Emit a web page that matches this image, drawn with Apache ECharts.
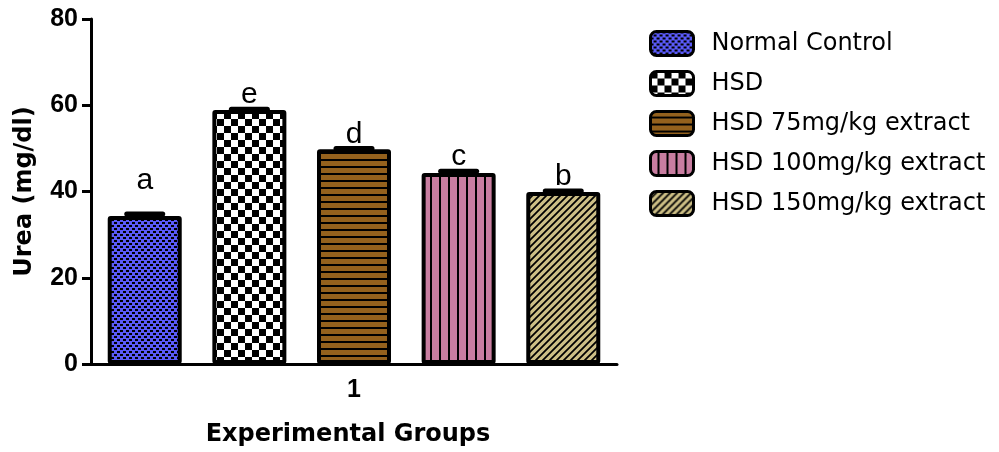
<!DOCTYPE html>
<html>
<head>
<meta charset="utf-8">
<title>Urea (mg/dl) by experimental group</title>
<script src="https://cdn.jsdelivr.net/npm/echarts@6/dist/echarts.min.js"></script>
<style>
  html, body { margin: 0; padding: 0; background: #fff; }
  #chart { width: 999px; height: 452px; }
</style>
</head>
<body>
<div id="chart"></div>
<script>
// Groups, measured means and SEMs, significance letters
const groups = ['Normal Control', 'HSD', 'HSD 75mg/kg extract', 'HSD 100mg/kg extract', 'HSD 150mg/kg extract'];
const xTicks = ['1'];
const ureaMean = [34.3, 58.9, 49.8, 44.3, 39.9];
const ureaSem = [0.5, 0.2, 0.2, 0.4, 0.2];
const letters = ['a', 'e', 'd', 'c', 'b'];
const yTicks = { min: 0, max: 80, interval: 20 };

// Extra lift for letters that sit higher than their error cap
const letterLift = [19, 0, 0, 0, 0];

// Bar geometry shared by the bars and the error-bar overlay
const BAR_W = 74;
const GAP_RATIO = 0.414;

// ---- fill patterns ----
function pattern(w, h, draw) {
  const c = document.createElement('canvas');
  c.width = w; c.height = h;
  draw(c.getContext('2d'), w, h);
  return { image: c, repeat: 'repeat' };
}
const fills = [
  // fine blue checker on black
  pattern(6, 6, (g) => {
    g.fillStyle = '#5a5af8'; g.fillRect(0, 0, 6, 6);
    g.fillStyle = '#000'; g.fillRect(0, 0, 3, 2); g.fillRect(3, 3, 3, 2);
  }),
  // coarse black/white checker
  pattern(14, 14, (g) => {
    g.fillStyle = '#fff'; g.fillRect(0, 0, 14, 14);
    g.fillStyle = '#000'; g.fillRect(0, 0, 7, 7); g.fillRect(7, 7, 7, 7);
  }),
  // brown with horizontal black lines
  pattern(8, 7, (g) => {
    g.fillStyle = '#94611d'; g.fillRect(0, 0, 8, 7);
    g.fillStyle = '#000'; g.fillRect(0, 5, 8, 2);
  }),
  // pink with vertical black lines
  pattern(9, 8, (g) => {
    g.fillStyle = '#c87da0'; g.fillRect(0, 0, 9, 8);
    g.fillStyle = '#000'; g.fillRect(7, 0, 2, 8);
  }),
  // khaki with diagonal black hatching
  pattern(7, 7, (g) => {
    g.fillStyle = '#cdbf86'; g.fillRect(0, 0, 7, 7);
    g.strokeStyle = '#000'; g.lineWidth = 1.8;
    g.beginPath();
    g.moveTo(-1, 8); g.lineTo(8, -1);
    g.moveTo(-4, 4); g.lineTo(4, -4);
    g.moveTo(3, 11); g.lineTo(11, 3);
    g.stroke();
  })
];

const barSeries = groups.map((name, i) => ({
  name: name,
  type: 'bar',
  barWidth: BAR_W,
  barGap: (GAP_RATIO * 100) + '%',
  data: [ureaMean[i]],
  itemStyle: { color: fills[i], borderColor: '#000', borderWidth: 4, borderRadius: 1 },
  emphasis: { disabled: true },
  z: 2
}));

// Error caps and letters drawn above each bar
const errorSeries = {
  type: 'custom',
  z: 5,
  silent: true,
  encode: { x: 0, y: 1 },
  data: ureaMean.map((m, i) => [0, m, ureaSem[i], i]),
  renderItem: function (params, api) {
    const i = api.value(3);
    const n = groups.length;
    const step = BAR_W * (1 + GAP_RATIO);
    const dx = (i - (n - 1) / 2) * step;
    const top = api.coord([api.value(0), api.value(1) + api.value(2)]);
    const base = api.coord([api.value(0), api.value(1)]);
    const x = top[0] + dx;
    return {
      type: 'group',
      children: [
        { type: 'line', shape: { x1: x, y1: base[1], x2: x, y2: top[1] },
          style: { stroke: '#000', lineWidth: 4 } },
        { type: 'line', shape: { x1: x - 18, y1: top[1], x2: x + 18, y2: top[1] },
          style: { stroke: '#000', lineWidth: 5, lineCap: 'round' } },
        { type: 'text',
          style: { text: letters[i], x: x, y: top[1] + 1 - letterLift[i],
                   align: 'center', verticalAlign: 'bottom',
                   font: '30px "Liberation Sans", Arial, sans-serif', fill: '#000' } }
      ]
    };
  }
};

const chart = echarts.init(document.getElementById('chart'));
chart.setOption({
  animation: false,
  backgroundColor: '#fff',
  grid: { left: 91, right: 382, top: 19, bottom: 87, containLabel: false },
  legend: {
    data: groups,
    orient: 'vertical',
    left: 644,
    top: 25,
    icon: 'roundRect',
    itemWidth: 43,
    itemHeight: 24,
    itemGap: 13,
    selectedMode: false,
    itemStyle: { borderColor: '#000', borderWidth: 3 },
    textStyle: { fontFamily: '"DejaVu Sans", sans-serif', fontSize: 24, color: '#000',
                 lineHeight: 24, padding: [0, 0, 0, 13] }
  },
  xAxis: {
    type: 'category',
    data: xTicks,
    name: 'Experimental Groups',
    nameLocation: 'middle',
    nameGap: 59,
    nameTextStyle: { fontFamily: '"DejaVu Sans", sans-serif', fontWeight: 'bold', fontSize: 24,
                     color: '#000', padding: [0, 12, 0, 0] },
    axisLine: { lineStyle: { color: '#000', width: 3 } },
    axisTick: { alignWithLabel: true, length: 10, lineStyle: { color: '#000', width: 3 } },
    axisLabel: { fontFamily: '"Liberation Sans", Arial, sans-serif', fontWeight: 'bold',
                 fontSize: 25, color: '#000', margin: 14 },
    splitLine: { show: false }
  },
  yAxis: {
    type: 'value',
    min: yTicks.min,
    max: yTicks.max,
    interval: yTicks.interval,
    name: 'Urea (mg/dl)',
    nameLocation: 'middle',
    nameRotate: 90,
    nameGap: 54,
    nameTextStyle: { fontFamily: '"DejaVu Sans", sans-serif', fontWeight: 'bold', fontSize: 24, color: '#000' },
    axisLine: { show: true, lineStyle: { color: '#000', width: 3 } },
    axisTick: { show: true, length: 9, lineStyle: { color: '#000', width: 3 } },
    axisLabel: { fontFamily: '"Liberation Sans", Arial, sans-serif', fontWeight: 'bold',
                 fontSize: 25, color: '#000', margin: 13 },
    splitLine: { show: false }
  },
  series: barSeries.concat([errorSeries])
});
</script>
</body>
</html>
